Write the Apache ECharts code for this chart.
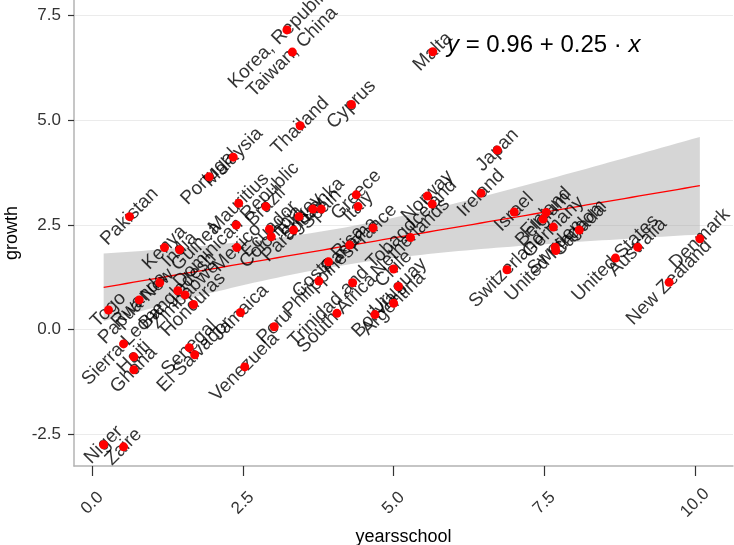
<!DOCTYPE html>
<html><head><meta charset="utf-8">
<script src="https://cdn.jsdelivr.net/npm/echarts@6/dist/echarts.min.js"></script>
<style>html,body{margin:0;padding:0;background:#fff}#c{width:734px;height:545px}</style>
</head><body><div id="c"></div>
<script>
const countries = ["Korea, Republic of","Taiwan, China","Malta","Cyprus","Thailand","Malaysia","Portugal","Japan","Pakistan","Mauritius",
"Brazil","Dominican Republic","Kenya","India","Mexico","Ecuador","Colombia","Paraguay","Turkey","Sri Lanka",
"Spain","Greece","Italy","France","Panama","Costa Rica","Philippines","Trinidad and Tobago","South Africa","Bolivia",
"Chile","Uruguay","Argentina","Norway","Iceland","Ireland","Netherlands","Israel","Switzerland","Finland",
"Belgium","Germany","Canada","Sweden","United Kingdom","United States","Australia","Denmark","New Zealand","Papua New Guinea",
"Bangladesh","Zimbabwe","Honduras","Rwanda","Togo","Sierra Leone","Haiti","Ghana","Senegal","El Salvador",
"Venezuela","Peru","Jamaica","Niger","Zaire"];
const yearsschool = [3.23,3.32,5.65,4.30,3.45,2.34,1.94,6.72,0.62,2.43,
2.88,2.39,1.20,1.45,2.40,2.94,2.97,3.34,3.43,3.66,
3.80,4.38,4.41,4.66,4.27,3.92,3.76,4.32,4.06,4.69,
5.00,5.08,5.00,5.56,5.64,6.45,5.28,7.00,6.88,7.53,
7.48,7.65,8.08,7.68,7.69,8.68,9.05,10.08,9.57,1.12,
1.42,1.54,1.68,0.78,0.27,0.52,0.69,0.69,1.61,1.70,
2.53,3.02,2.46,0.19,0.52];
const growth = [7.16,6.63,6.64,5.38,4.87,4.12,3.65,4.29,2.70,3.02,
2.94,2.50,1.96,1.91,1.96,2.40,2.22,2.38,2.70,2.88,
2.88,3.22,2.94,2.43,2.02,1.62,1.16,1.12,0.39,0.36,
1.45,1.03,0.63,3.19,3.00,3.26,2.20,2.81,1.43,2.80,
2.64,2.45,2.38,1.97,1.89,1.71,1.97,2.17,1.13,1.12,
0.93,0.83,0.60,0.71,0.47,-0.34,-0.65,-0.96,-0.43,-0.60,
-0.89,0.07,0.41,-2.75,-2.80];
const xTicks = [0, 2.5, 5, 7.5, 10];
const yTicks = [-2.5, 0, 2.5, 5, 7.5];
const eqIntercept = "0.96";
const eqSlope = "0.25";

// OLS fit + 95% confidence band (as geom_smooth(method = "lm"))
const n = yearsschool.length;
const xbar = yearsschool.reduce((a,b)=>a+b,0)/n;
const ybar = growth.reduce((a,b)=>a+b,0)/n;
let sxx=0, sxy=0;
for (let i=0;i<n;i++){ sxx+=(yearsschool[i]-xbar)**2; sxy+=(yearsschool[i]-xbar)*(growth[i]-ybar); }
const b1 = sxy/sxx, b0 = ybar - b1*xbar;
let sse=0; for (let i=0;i<n;i++){ sse += (growth[i]-b0-b1*yearsschool[i])**2; }
const s = Math.sqrt(sse/(n-2));
const tcrit = 1.998;
const xmin = Math.min(...yearsschool), xmax = Math.max(...yearsschool);
const bandX=[], bandLo=[], bandHi=[], fitLine=[];
for (let k=0;k<80;k++){
  const x = xmin + (xmax-xmin)*k/79;
  const f = b0+b1*x;
  const se = s*Math.sqrt(1/n + (x-xbar)**2/sxx);
  bandX.push(x); bandLo.push(f-tcrit*se); bandHi.push(f+tcrit*se);
  fitLine.push([x,f]);
}
const pointData = countries.map((c,i)=>({name:c, value:[yearsschool[i], growth[i]]}));

const FONT = "'Liberation Sans', Arial, sans-serif";
const chart = echarts.init(document.getElementById('c'), null, {renderer:'canvas'});
chart.setOption({
  animation:false,
  backgroundColor:'#ffffff',
  textStyle:{fontFamily:FONT},
  grid:{left:74, right:1, top:0, bottom:79, containLabel:false, outerBoundsMode:'none'},
  xAxis:{
    type:'value', min:-0.302, max:10.63,
    name:'yearsschool', nameLocation:'middle', nameGap:58,
    nameTextStyle:{fontSize:18, color:'#000', fontFamily:FONT},
    axisLine:{show:true, onZero:false, lineStyle:{color:'#b3b3b3', width:1.5}},
    axisTick:{show:true, length:10, lineStyle:{color:'#333', width:1.2}, customValues:xTicks},
    axisLabel:{customValues:xTicks, rotate:45, align:'center', verticalAlign:'middle', margin:37,
      fontSize:17, color:'#333', fontFamily:FONT, formatter:v=>v.toFixed(1)},
    splitLine:{show:false}
  },
  yAxis:{
    type:'value', min:-3.257, max:7.875,
    name:'growth', nameLocation:'middle', nameGap:52,
    nameTextStyle:{fontSize:18, color:'#000', fontFamily:FONT},
    axisLine:{show:true, onZero:false, lineStyle:{color:'#b3b3b3', width:1.5}},
    axisTick:{show:true, length:6, lineStyle:{color:'#333', width:1.2}, customValues:yTicks},
    axisLabel:{customValues:yTicks, margin:13, fontSize:17, color:'#333', fontFamily:FONT, formatter:v=>v.toFixed(1)},
    splitLine:{show:true, lineStyle:{color:'#ebebeb', width:1.2}}
  },
  graphic:[{
    type:'text', left:447, top:33, z:100,
    style:{text:'{i|y} = '+eqIntercept+' + '+eqSlope+' \u00b7 {i|x}', fontSize:24, fill:'#000', fontFamily:FONT,
      rich:{i:{fontStyle:'italic', fontSize:24, fontFamily:FONT, fill:'#000'}}}
  }],
  series:[
    {type:'custom', coordinateSystem:'cartesian2d', silent:true, z:1,
     data:[[bandX[0], bandLo[0]]],
     renderItem:function(params, api){
       const pts=[];
       for (let k=0;k<bandX.length;k++) pts.push(api.coord([bandX[k], bandHi[k]]));
       for (let k=bandX.length-1;k>=0;k--) pts.push(api.coord([bandX[k], bandLo[k]]));
       return {type:'polygon', shape:{points:pts}, style:{fill:'rgba(153,153,153,0.4)'}};
     }},
    {type:'line', data:fitLine, showSymbol:false, symbol:'none', z:2,
     lineStyle:{color:'#ff0000', width:1.3}},
    {type:'scatter', z:3, symbol:'circle', symbolSize:1,
     itemStyle:{color:'rgba(0,0,0,0)', borderWidth:0},
     data:pointData,
     label:{show:true, formatter:'{b}', position:'inside', rotate:45, fontSize:19, color:'#000', fontFamily:FONT},
     labelLayout:{hideOverlap:false},
     emphasis:{disabled:true}},
    {type:'scatter', z:10, zlevel:1, symbol:'circle', symbolSize:9,
     itemStyle:{color:'#ff0000', borderWidth:0, opacity:1},
     data:pointData,
     label:{show:false},
     emphasis:{disabled:true}}
  ]
});
</script></body></html>
